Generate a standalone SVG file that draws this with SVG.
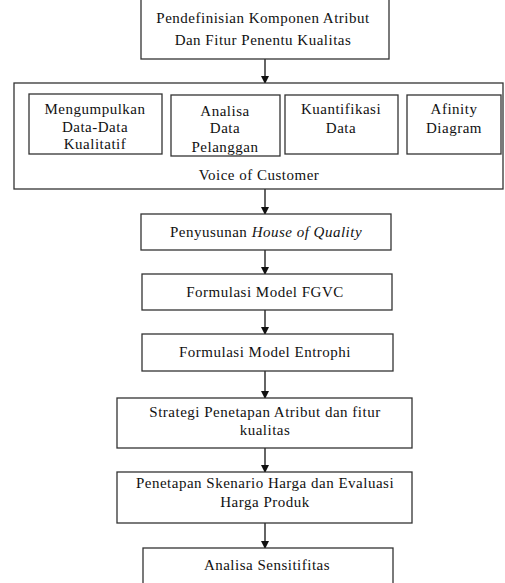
<svg xmlns="http://www.w3.org/2000/svg" width="505" height="583" viewBox="0 0 505 583">
<defs>
<marker id="ah" markerWidth="8" markerHeight="8" refX="7" refY="4" orient="auto" markerUnits="userSpaceOnUse">
<path d="M0,0 L8,4 L0,8 Z" fill="#111"/>
</marker>
<style>
.b{fill:#fff;stroke:#333;stroke-width:1.3}
.t{font-family:"Liberation Serif","DejaVu Serif",serif;font-size:15px;letter-spacing:0.5px;fill:#111;text-anchor:middle}
.c{stroke:#111;stroke-width:1.3;fill:none;marker-end:url(#ah)}
</style>
</defs>
<rect width="505" height="583" fill="#fff"/>
<g id="connectors">
<line class="c" x1="265" y1="59" x2="265" y2="83"/>
<line class="c" x1="265" y1="189" x2="265" y2="214"/>
<line class="c" x1="265" y1="250" x2="265" y2="274"/>
<line class="c" x1="265" y1="310" x2="265" y2="334"/>
<line class="c" x1="265" y1="371" x2="265" y2="398"/>
<line class="c" x1="265" y1="448" x2="265" y2="472"/>
<line class="c" x1="265" y1="523" x2="265" y2="548"/>
</g>
<g id="n1">
<rect class="b" x="141" y="-5" width="248" height="64"/>
<text class="t" x="263" y="23">Pendefinisian Komponen Atribut</text>
<text class="t" x="263" y="45">Dan Fitur Penentu Kualitas</text>
</g>
<g id="voc">
<rect class="b" x="14" y="83" width="489" height="106"/>
<text class="t" x="259" y="180">Voice of Customer</text>
</g>
<g id="voc1">
<rect class="b" x="29" y="94" width="133" height="60"/>
<text class="t" x="95" y="114">Mengumpulkan</text>
<text class="t" x="95" y="132">Data-Data</text>
<text class="t" x="95" y="149">Kualitatif</text>
</g>
<g id="voc2">
<rect class="b" x="171" y="95" width="109" height="61"/>
<text class="t" x="225" y="116">Analisa</text>
<text class="t" x="225" y="133">Data</text>
<text class="t" x="225" y="152">Pelanggan</text>
</g>
<g id="voc3">
<rect class="b" x="285" y="95" width="113" height="59"/>
<text class="t" x="341" y="114">Kuantifikasi</text>
<text class="t" x="341" y="133">Data</text>
</g>
<g id="voc4">
<rect class="b" x="407" y="95" width="94" height="59"/>
<text class="t" x="454" y="114">Afinity</text>
<text class="t" x="454" y="133">Diagram</text>
</g>
<g id="n2">
<rect class="b" x="141" y="214" width="250" height="36"/>
<text class="t" x="266" y="237">Penyusunan <tspan font-style="italic">House of Quality</tspan></text>
</g>
<g id="n3">
<rect class="b" x="142" y="274" width="250" height="36"/>
<text class="t" x="265" y="297">Formulasi Model FGVC</text>
</g>
<g id="n4">
<rect class="b" x="142" y="334" width="251" height="37"/>
<text class="t" x="265" y="357">Formulasi Model Entrophi</text>
</g>
<g id="n5">
<rect class="b" x="117" y="398" width="295" height="50"/>
<text class="t" x="265" y="417">Strategi Penetapan Atribut dan fitur</text>
<text class="t" x="265" y="435">kualitas</text>
</g>
<g id="n6">
<rect class="b" x="117" y="472" width="295" height="51"/>
<text class="t" x="265" y="488">Penetapan Skenario Harga dan Evaluasi</text>
<text class="t" x="265" y="507">Harga Produk</text>
</g>
<g id="n7">
<rect class="b" x="143" y="548" width="250" height="45"/>
<text class="t" x="267" y="570">Analisa Sensitifitas</text>
</g>
</svg>
